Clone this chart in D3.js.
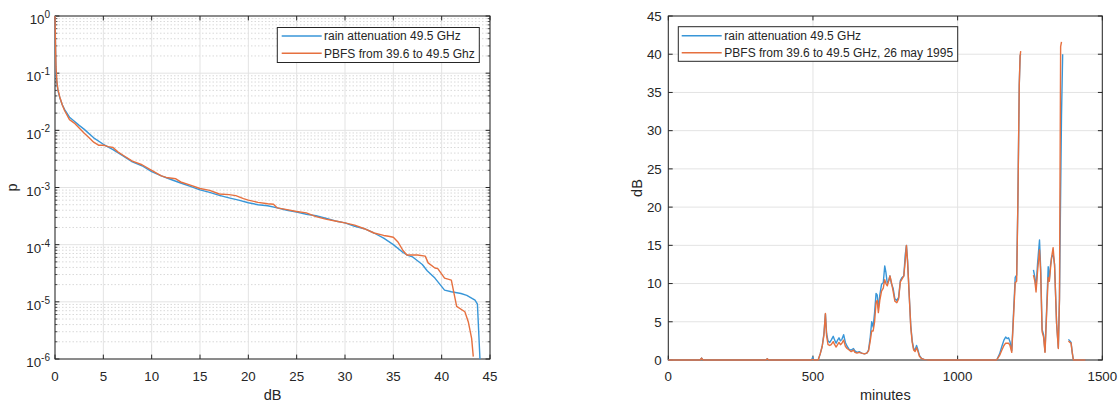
<!DOCTYPE html>
<html>
<head>
<meta charset="utf-8">
<script src="https://cdn.jsdelivr.net/npm/d3@7"></script>
<style>
  body { margin: 0; background: #fff; }
  svg { display: block; font-family: "Liberation Sans", Arial, Helvetica, sans-serif; }
</style>
</head>
<body>
<svg id="fig" width="1120" height="403"></svg>
<script>
// ---- Exceedance probability of attenuation (left panel) ----
const cdfRainDb = [0, 0.05, 0.1, 0.2, 0.3, 0.5, 0.75, 1, 1.5, 2, 2.5, 3, 4, 5, 6, 7, 8, 9, 10, 11, 12, 13, 14, 15,
  16, 17, 18, 19, 20, 21, 22, 23, 24, 25, 26, 27, 28, 29, 30, 31, 32, 33, 34, 35, 36, 36.5, 37, 38, 38.5, 39.3,
  40.3, 41, 42, 42.6, 43.45, 43.7, 43.96];
const cdfRainP = [1, 0.3, 0.1, 0.065, 0.05, 0.037, 0.028, 0.023, 0.017, 0.0144, 0.0122, 0.0105, 0.0074, 0.0057,
  0.0046, 0.0036, 0.0028, 0.0024, 0.0019, 0.0016, 0.00138, 0.0012, 0.00105, 0.00091, 0.00082, 0.00073, 0.00066,
  0.0006, 0.00054, 0.0005, 0.00048, 0.00044, 0.0004, 0.00037, 0.00034, 0.00032, 0.00029, 0.00026, 0.00024,
  0.00021, 0.00019, 0.00016, 0.00013, 0.0001, 7.3e-5, 6.5e-5, 6.1e-5, 4.5e-5, 3.5e-5, 2.6e-5, 1.6e-5, 1.5e-5,
  1.4e-5, 1.3e-5, 1.07e-5, 9.1e-6, 1e-6];
const cdfPbfsDb = [0, 0.05, 0.1, 0.2, 0.3, 0.5, 0.75, 1, 1.5, 2, 2.5, 3, 3.5, 4, 4.5, 5, 5.5, 6, 6.5, 7, 8, 9, 10,
  11, 11.5, 12.5, 13, 14, 15, 16, 17, 18, 18.7, 19.5, 20, 21, 22, 22.6, 23, 24, 25, 26, 27, 28, 29, 30, 31, 32,
  33, 34, 34.5, 35, 35.5, 36, 36.4, 37.5, 38.3, 38.6, 39.3, 39.6, 40.3, 41.0, 41.55, 42.4, 42.75, 43.1, 43.27];
const cdfPbfsP = [1, 0.35, 0.13, 0.07, 0.052, 0.038, 0.028, 0.022, 0.0154, 0.0134, 0.011, 0.009, 0.0075, 0.0062,
  0.0055, 0.0055, 0.0052, 0.005, 0.0042, 0.0037, 0.0029, 0.0025, 0.002, 0.0016, 0.0015, 0.00142, 0.00125, 0.0011,
  0.00096, 0.00089, 0.00077, 0.00075, 0.00072, 0.00064, 0.0006, 0.00055, 0.00052, 0.00051, 0.00044, 0.00041,
  0.00038, 0.00036, 0.00031, 0.00028, 0.00026, 0.00024, 0.00022, 0.00019, 0.00016, 0.000145, 0.00014, 0.000135,
  0.00011, 7.9e-5, 6.6e-5, 6.6e-5, 6.3e-5, 4.8e-5, 3.9e-5, 3.8e-5, 2.6e-5, 2.4e-5, 8.3e-6, 6.7e-6, 4.5e-6,
  2.3e-6, 1.1e-6];
const cdfXTicks = [0, 5, 10, 15, 20, 25, 30, 35, 40, 45];
const cdfYExponents = [-6, -5, -4, -3, -2, -1, 0];
const cdfLegend = ["rain attenuation 49.5 GHz", "PBFS from 39.6 to 49.5 Ghz"];

// ---- Attenuation time series, 26 May 1995 (right panel); null = missing samples ----
const minutes = [0, 110, 115, 120, 338, 342, 346, 495, 499, 503, 518, 525, 532, 538, 543, 547, 552, 558, 563, 570,
  575, 580, 585, 590, 595, 600, 606, 612, 618, 625, 632, 640, 645, 652, 660, 668, 678, 686, 692, 698, 703, 708,
  713, 718, 722, 726, 731, 737, 743, 748, 752, 757, 762, 766, 771, 777, 783, 790, 796, 802, 808, 814, 819, 823,
  827, 832, 838, 843, 848, 853, 858, 863, 868, 875, 885, 900, 1135, 1145, 1153, 1160, 1166, 1171, 1176, 1181,
  1187, 1193, 1199, 1204, 1208, 1213, 1216, 1218, 1240, 1262, 1267, 1271, 1276, 1283, 1287, 1292, 1297, 1302,
  1308, 1313, 1317, 1321, 1325, 1330, 1335, 1342, 1348, 1352, 1356, 1359, 1363, 1370, 1383, 1388, 1392, 1396,
  1400, 1442];
const rainDb = [0, 0, 0.25, 0, 0, 0.15, 0, 0, 0.35, 0, 0, 0.8, 1.8, 3.5, 6.0, 3.5, 2.5, 2.3, 2.6, 3.1,
  2.6, 2.2, 2.6, 2.9, 2.5, 2.7, 3.3, 2.3, 1.8, 1.4, 1.3, 1.5, 1.2, 1.0, 1.1, 0.9, 0.8, 0.9, 1.3, 3.0, 5.0, 4.3,
  6.2, 8.7, 8.5, 6.8, 8.5, 9.9, 10.1, 12.3, 11.5, 10.0, 10.4, 11.0, 10.0, 9.4, 8.0, 7.8, 8.2, 10.4, 10.8, 11.0, 13.8, 15.0,
  13.0, 9.0, 4.5, 2.5, 1.5, 1.3, 1.9, 1.3, 0.6, 0.2, 0.05, 0, 0, 0.8, 1.8, 2.6, 3.0, 2.8, 2.9, 2.4,
  1.2, 6.0, 10.8, 11.1, 20, 36, 39.8, 40.0, null, 11.8, 10.8, 9.3, 12.5, 15.7, 12.0, 4.0, 3.3, 1.1,
  7.0, 12.2, 10.6, 12.4, 13.5, 13.8, 12.5, 4.8, 1.6, 8, 22, 32, 40.0, null, 2.7, 2.5, 2.3, 1.0,
  0, 0];
const pbfsDb = [0, 0, 0.25, 0, 0, 0.15, 0, 0, 0.1, 0, 0, 0.8, 1.8, 3.3, 6.1, 3.2, 2.0, 1.9, 2.0, 2.4,
  2.0, 1.7, 2.0, 2.3, 2.0, 2.2, 2.6, 1.8, 1.5, 1.3, 1.1, 1.3, 1.0, 0.9, 1.0, 0.9, 0.8, 0.9, 1.2, 2.5, 3.8, 3.8,
  5.0, 7.5, 7.8, 6.2, 7.8, 9.0, 9.4, 10.5, 10.0, 9.7, 10.4, 11.0, 10.2, 9.0, 7.7, 7.5, 8.0, 10.2, 10.6, 11.0, 13.0, 15.0,
  12.8, 9.0, 4.3, 2.3, 1.3, 1.1, 1.6, 1.1, 0.5, 0.2, 0.05, 0, 0, 0.6, 1.3, 1.9, 2.2, 2.2, 2.2, 1.9,
  1.0, 5.5, 10.1, 10.3, 20, 36, 39.8, 40.4, null, 11.1, 10.3, 8.9, 11.5, 14.4, 11.5, 3.7, 3.0, 1.0,
  6.5, 10.8, 10.3, 12.0, 13.5, 14.7, 12.4, 4.8, 1.5, 8, 41.0, 41.6, null, null, 2.5, 2.3, 2.2, 1.0,
  0, 0];
const tsXTicks = [0, 500, 1000, 1500];
const tsYTicks = [0, 5, 10, 15, 20, 25, 30, 35, 40, 45];
const tsLegend = ["rain attenuation 49.5 GHz", "PBFS from 39.6 to 49.5 GHz, 26 may 1995"];

const seriesColors = ["#3896d8", "#e6703f"];
const axisColor = "#262626";
const gridColor = "#e3e3e3";
const minorGridColor = "#d9d9d9";
const tickLen = 4.4;

const svg = d3.select("#fig");

// ---------- left panel ----------
{
  const L = 55, R = 490, T = 16, B = 359;
  const x = d3.scaleLinear().domain([0, 45]).range([L, R]);
  const y = d3.scaleLog().domain([1e-6, 1]).range([B, T]);
  const g = svg.append("g");

  // minor grid (dotted) at 2..9 x 10^k
  const minorVals = [];
  cdfYExponents.slice(0, -1).forEach(e => { for (let m = 2; m <= 9; m++) minorVals.push(m * Math.pow(10, e)); });
  g.selectAll("line.minor").data(minorVals).enter().append("line")
    .attr("x1", L).attr("x2", R).attr("y1", d => y(d)).attr("y2", d => y(d))
    .attr("stroke", minorGridColor).attr("stroke-width", 1).attr("stroke-dasharray", "1.5,2");
  // major grid
  g.selectAll("line.gx").data(cdfXTicks).enter().append("line")
    .attr("x1", d => x(d)).attr("x2", d => x(d)).attr("y1", T).attr("y2", B)
    .attr("stroke", gridColor).attr("stroke-width", 1);
  const majorVals = cdfYExponents.map(e => Math.pow(10, e));
  g.selectAll("line.gy").data(majorVals).enter().append("line")
    .attr("x1", L).attr("x2", R).attr("y1", d => y(d)).attr("y2", d => y(d))
    .attr("stroke", gridColor).attr("stroke-width", 1);

  // box
  g.append("rect").attr("x", L).attr("y", T).attr("width", R - L).attr("height", B - T)
    .attr("fill", "none").attr("stroke", axisColor).attr("stroke-width", 1);

  // ticks (inside, all sides)
  cdfXTicks.forEach(v => {
    g.append("line").attr("x1", x(v)).attr("x2", x(v)).attr("y1", B).attr("y2", B - tickLen).attr("stroke", axisColor);
    g.append("line").attr("x1", x(v)).attr("x2", x(v)).attr("y1", T).attr("y2", T + tickLen).attr("stroke", axisColor);
  });
  majorVals.forEach(v => {
    g.append("line").attr("x1", L).attr("x2", L + tickLen).attr("y1", y(v)).attr("y2", y(v)).attr("stroke", axisColor);
    g.append("line").attr("x1", R).attr("x2", R - tickLen).attr("y1", y(v)).attr("y2", y(v)).attr("stroke", axisColor);
  });
  minorVals.forEach(v => {
    g.append("line").attr("x1", L).attr("x2", L + 2.4).attr("y1", y(v)).attr("y2", y(v)).attr("stroke", axisColor).attr("stroke-width", 0.8);
    g.append("line").attr("x1", R).attr("x2", R - 2.4).attr("y1", y(v)).attr("y2", y(v)).attr("stroke", axisColor).attr("stroke-width", 0.8);
  });

  // tick labels
  g.selectAll("text.xt").data(cdfXTicks).enter().append("text")
    .attr("x", d => x(d)).attr("y", 380.5).attr("text-anchor", "middle")
    .attr("font-size", 13.3).attr("fill", axisColor).text(d => d);
  cdfYExponents.forEach(e => {
    const t = g.append("text").attr("x", 50).attr("y", y(Math.pow(10, e)) + 8.3)
      .attr("text-anchor", "end").attr("font-size", 13.3).attr("fill", axisColor);
    t.append("tspan").text("10");
    t.append("tspan").attr("dy", -6.3).attr("font-size", 10).text(e);
  });

  // axis labels
  g.append("text").attr("x", (L + R) / 2).attr("y", 400).attr("text-anchor", "middle")
    .attr("font-size", 14.5).attr("fill", axisColor).text("dB");
  g.append("text").attr("transform", `translate(17,${(T + B) / 2}) rotate(-90)`).attr("text-anchor", "middle")
    .attr("font-size", 14.5).attr("fill", axisColor).text("p");

  // curves
  const line = d3.line().x(d => x(d[0])).y(d => y(d[1]));
  const rain = cdfRainDb.map((v, i) => [v, cdfRainP[i]]);
  const pbfs = cdfPbfsDb.map((v, i) => [v, cdfPbfsP[i]]);
  [rain, pbfs].forEach((d, i) => {
    g.append("path").datum(d).attr("d", line).attr("fill", "none")
      .attr("stroke", seriesColors[i]).attr("stroke-width", 1.4).attr("stroke-linejoin", "round");
  });

  // legend
  const lg = g.append("g");
  lg.append("rect").attr("x", 277.3).attr("y", 27.5).attr("width", 202).attr("height", 35)
    .attr("fill", "#fff").attr("stroke", axisColor).attr("stroke-width", 1);
  cdfLegend.forEach((txt, i) => {
    const ry = 36 + i * 17.3;
    lg.append("line").attr("x1", 281.7).attr("x2", 321.7).attr("y1", ry).attr("y2", ry)
      .attr("stroke", seriesColors[i]).attr("stroke-width", 1.4);
    lg.append("text").attr("x", 324).attr("y", ry + 4.3).attr("font-size", 12).attr("fill", axisColor).text(txt);
  });
}

// ---------- right panel ----------
{
  const L = 668.3, R = 1102.3, T = 16, B = 360;
  const x = d3.scaleLinear().domain([0, 1500]).range([L, R]);
  const y = d3.scaleLinear().domain([0, 45]).range([B, T]);
  const g = svg.append("g");

  g.selectAll("line.gx").data(tsXTicks).enter().append("line")
    .attr("x1", d => x(d)).attr("x2", d => x(d)).attr("y1", T).attr("y2", B)
    .attr("stroke", gridColor).attr("stroke-width", 1);
  g.selectAll("line.gy").data(tsYTicks).enter().append("line")
    .attr("x1", L).attr("x2", R).attr("y1", d => y(d)).attr("y2", d => y(d))
    .attr("stroke", gridColor).attr("stroke-width", 1);

  g.append("rect").attr("x", L).attr("y", T).attr("width", R - L).attr("height", B - T)
    .attr("fill", "none").attr("stroke", axisColor).attr("stroke-width", 1);

  tsXTicks.forEach(v => {
    g.append("line").attr("x1", x(v)).attr("x2", x(v)).attr("y1", B).attr("y2", B - tickLen).attr("stroke", axisColor);
    g.append("line").attr("x1", x(v)).attr("x2", x(v)).attr("y1", T).attr("y2", T + tickLen).attr("stroke", axisColor);
  });
  tsYTicks.forEach(v => {
    g.append("line").attr("x1", L).attr("x2", L + tickLen).attr("y1", y(v)).attr("y2", y(v)).attr("stroke", axisColor);
    g.append("line").attr("x1", R).attr("x2", R - tickLen).attr("y1", y(v)).attr("y2", y(v)).attr("stroke", axisColor);
  });

  g.selectAll("text.xt").data(tsXTicks).enter().append("text")
    .attr("x", d => x(d)).attr("y", 380.5).attr("text-anchor", "middle")
    .attr("font-size", 13.3).attr("fill", axisColor).text(d => d);
  g.selectAll("text.yt").data(tsYTicks).enter().append("text")
    .attr("x", 661.7).attr("y", d => y(d) + 4.8).attr("text-anchor", "end")
    .attr("font-size", 13.3).attr("fill", axisColor).text(d => d);

  g.append("text").attr("x", (L + R) / 2).attr("y", 400).attr("text-anchor", "middle")
    .attr("font-size", 14.5).attr("fill", axisColor).text("minutes");
  g.append("text").attr("transform", `translate(641.7,${(T + B) / 2}) rotate(-90)`).attr("text-anchor", "middle")
    .attr("font-size", 14.5).attr("fill", axisColor).text("dB");

  const line = d3.line().defined(d => d[1] !== null).x(d => x(d[0])).y(d => y(d[1]));
  [rainDb, pbfsDb].forEach((vals, i) => {
    const d = minutes.map((m, k) => [m, vals[k]]);
    g.append("path").datum(d).attr("d", line).attr("fill", "none")
      .attr("stroke", seriesColors[i]).attr("stroke-width", 1.4).attr("stroke-linejoin", "round");
  });

  const lg = g.append("g");
  lg.append("rect").attr("x", 678.3).attr("y", 26.7).attr("width", 279.4).attr("height", 34.6)
    .attr("fill", "#fff").attr("stroke", axisColor).attr("stroke-width", 1);
  tsLegend.forEach((txt, i) => {
    const ry = 35.7 + i * 17;
    lg.append("line").attr("x1", 681.7).attr("x2", 721.7).attr("y1", ry).attr("y2", ry)
      .attr("stroke", seriesColors[i]).attr("stroke-width", 1.4);
    lg.append("text").attr("x", 724.3).attr("y", ry + 4.3).attr("font-size", 12).attr("fill", axisColor).text(txt);
  });
}
</script>
</body>
</html>
